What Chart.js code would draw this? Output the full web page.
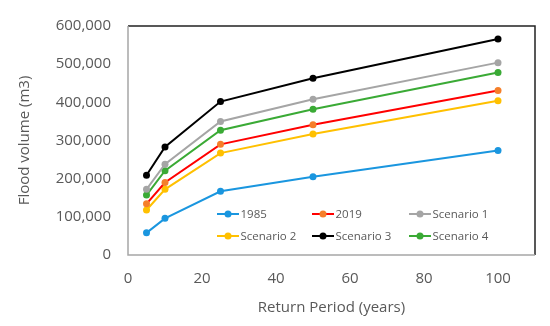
<!DOCTYPE html>
<html><head><meta charset="utf-8">
<script src="https://cdn.jsdelivr.net/npm/chart.js@4/dist/chart.umd.min.js"></script>
<style>html,body{margin:0;padding:0;background:#fff;}#wrap{width:550px;height:326px;}</style>
</head><body><div id="wrap"><canvas id="c" width="550" height="326"></canvas></div>
<script>
const returnPeriods = [5, 10, 25, 50, 100];
const seriesNames = ['1985', '2019', 'Scenario 1', 'Scenario 2', 'Scenario 3', 'Scenario 4'];
const v1985 = [58000, 96000, 167000, 205000, 274000];
const v2019 = [134000, 190000, 290000, 341000, 431000];
const vScenario1 = [172000, 238000, 350000, 408000, 504000];
const vScenario2 = [118000, 172000, 267000, 317000, 404000];
const vScenario3 = [209000, 283000, 402000, 463000, 566000];
const vScenario4 = [157000, 221000, 327000, 382000, 478000];

const lineColors = ['#1A96DF', '#FF0000', '#A5A5A5', '#FFC000', '#000000', '#3AAA35'];
const markColors = ['#1A96DF', '#F57F2A', '#A5A5A5', '#FFC000', '#000000', '#3AAA35'];
const allValues = [v1985, v2019, vScenario1, vScenario2, vScenario3, vScenario4];

const FONT = "'Open Sans', 'Noto Sans', sans-serif";
const datasets = seriesNames.map((n, i) => ({
  label: n,
  data: returnPeriods.map((x, j) => ({x: x, y: allValues[i][j]})),
  borderColor: lineColors[i],
  backgroundColor: markColors[i],
  pointBackgroundColor: markColors[i],
  pointBorderColor: markColors[i],
  pointRadius: 3.5,
  pointBorderWidth: 0,
  borderWidth: 2,
  tension: 0,
  fill: false
}));

const frame = {
  id: 'frame',
  afterDraw(chart) {
    const {ctx, chartArea: a} = chart;
    ctx.save();
    ctx.strokeStyle = '#222';
    ctx.lineWidth = 1.5;
    ctx.beginPath();
    ctx.moveTo(a.left, a.top);
    ctx.lineTo(a.right, a.top);
    ctx.lineTo(a.right, a.bottom);
    ctx.stroke();
    ctx.strokeStyle = '#A6A6A6';
    ctx.lineWidth = 1.5;
    ctx.beginPath();
    ctx.moveTo(a.left, a.top);
    ctx.lineTo(a.left, a.bottom);
    ctx.lineTo(a.right, a.bottom);
    ctx.stroke();
    // legend inside plot area
    const cols = [217, 312, 409];
    const rows = [214, 236];
    ctx.font = "11.5px " + FONT;
    ctx.textBaseline = 'middle';
    ctx.textAlign = 'left';
    chart.data.datasets.forEach((ds, i) => {
      const x = cols[i % 3], y = rows[Math.floor(i / 3)];
      ctx.strokeStyle = ds.borderColor;
      ctx.lineWidth = 2;
      ctx.beginPath();
      ctx.moveTo(x, y); ctx.lineTo(x + 22, y); ctx.stroke();
      ctx.fillStyle = ds.pointBackgroundColor;
      ctx.beginPath(); ctx.arc(x + 11, y, 3.5, 0, Math.PI * 2); ctx.fill();
      ctx.fillStyle = '#595959';
      ctx.fillText(ds.label, x + 23.5, y + 0.5);
    });
    ctx.restore();
  }
};

new Chart(document.getElementById('c'), {
  type: 'line',
  data: {datasets},
  plugins: [frame],
  options: {
    responsive: false,
    animation: false,
    layout: {padding: {left: 0, right: 15, top: 26, bottom: 0}},
    plugins: {legend: {display: false}, tooltip: {enabled: false}},
    scales: {
      x: {
        type: 'linear', min: 0, max: 110,
        afterFit(s) { s.height = 71; },
        border: {display: false},
        grid: {display: false, drawTicks: false},
        ticks: {
          stepSize: 20, padding: 15, color: '#595959', includeBounds: false,
          font: {family: FONT, size: 15}
        },
        title: {display: true, text: 'Return Period (years)', color: '#595959',
          font: {family: FONT, size: 15}, padding: {top: 0, bottom: 9}}
      },
      y: {
        min: 0, max: 600000,
        afterFit(s) { s.width = 128; },
        border: {display: false},
        grid: {display: false, drawTicks: false},
        ticks: {
          stepSize: 100000, padding: 17, color: '#595959',
          font: {family: FONT, size: 15},
          callback: v => v.toLocaleString('en-US')
        },
        title: {display: true, text: 'Flood volume (m3)', color: '#595959',
          font: {family: FONT, size: 15}, padding: {top: 16, bottom: 0}}
      }
    }
  }
});
</script></body></html>
